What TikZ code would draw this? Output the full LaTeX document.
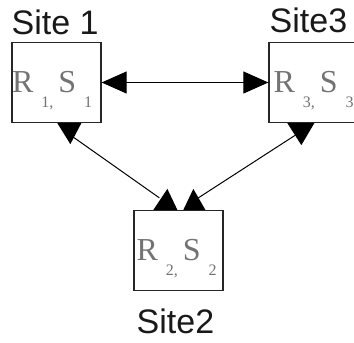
\documentclass[tikz,border=0pt]{standalone}
\usepackage{fontspec}
\setmainfont{Liberation Serif}
\newfontfamily\sitefont{Liberation Sans}
\usetikzlibrary{arrows.meta,calc}

% relation/fragment pair R_i, S_i with low, widely spaced indices
\newcommand{\relpair}[1]{%
  {\fontsize{32}{32}\selectfont R}\hspace{8pt}%
  \raisebox{-15pt}{\fontsize{16}{16}\selectfont #1,}\hspace{5pt}%
  {\fontsize{32}{32}\selectfont S}\hspace{8pt}%
  \raisebox{-15pt}{\fontsize{16}{16}\selectfont #1}}

\begin{document}
\begin{tikzpicture}[x=1pt,y=-1pt,
  sitebox/.style={draw=black!85, line width=1.3pt, minimum width=89pt,
    minimum height=80pt, inner sep=0pt, fill=white},
  sitelabel/.style={inner sep=0pt, anchor=base west,
    font=\sitefont\fontsize{34}{34}\selectfont, text=black!90},
  reltext/.style={inner sep=0pt, anchor=base west, text=black!55},
  link/.style={line width=1pt, draw=black},
  bighead/.tip={Triangle[length=25pt,width=22pt,fill=black]},
  headfill/.style={fill=black}]
\useasboundingbox (0,0) rectangle (354,343);

% sites
\node[sitebox] (b1) at (56.5,82.5) {};
\node[sitebox] (b2) at (178.5,250.5) {};
\node[sitebox] (b3) at (313.5,82.5) {};

% contents of the sites
\node[reltext] (r1) at ($(b1.north west)+(0.5,51)$) {\relpair{1}};
\node[reltext] (r2) at ($(b2.north west)+(3,51)$) {\relpair{2}};
\node[reltext] (r3) at ($(b3.north west)+(5,51)$) {\relpair{3}};

% site names
\node[sitelabel] (l1) at (11.5,34) {Site 1};
\node[sitelabel] (l3) at (269.5,32) {Site3};
\node[sitelabel] (l2) at (136.5,333) {Site2};

% link between site 1 and site 3
\draw[link, bighead-bighead] (b1) -- (b3);

% links to site 2
\coordinate (e1) at ($(b1.south west)+(62,14)$);
\coordinate (e2) at ($(b2.north west)+(26,-12)$);
\coordinate (e3) at ($(b3.south west)+(27,12)$);
\coordinate (e4) at ($(b2.north west)+(65,-12)$);
\draw[link] (e1) -- (e2);
\draw[link] (e3) -- (e4);

% arrow heads on the lower links
\fill[headfill] ($(b1.south west)+(46,0)$) -- ++(24,0) -- ($(b1.south west)+(59,21)$) -- cycle;
\fill[headfill] ($(b3.south west)+(19,0)$) -- ++(27,0) -- ($(b3.south west)+(33,22)$) -- cycle;
\fill[headfill] ($(b2.north west)+(20,0)$) -- ++(24,0) -- ($(b2.north west)+(34,-21)$) -- cycle;
\fill[headfill] ($(b2.north west)+(50,0)$) -- ++(22,0) -- ($(b2.north west)+(60,-21)$) -- cycle;
\end{tikzpicture}
\end{document}
